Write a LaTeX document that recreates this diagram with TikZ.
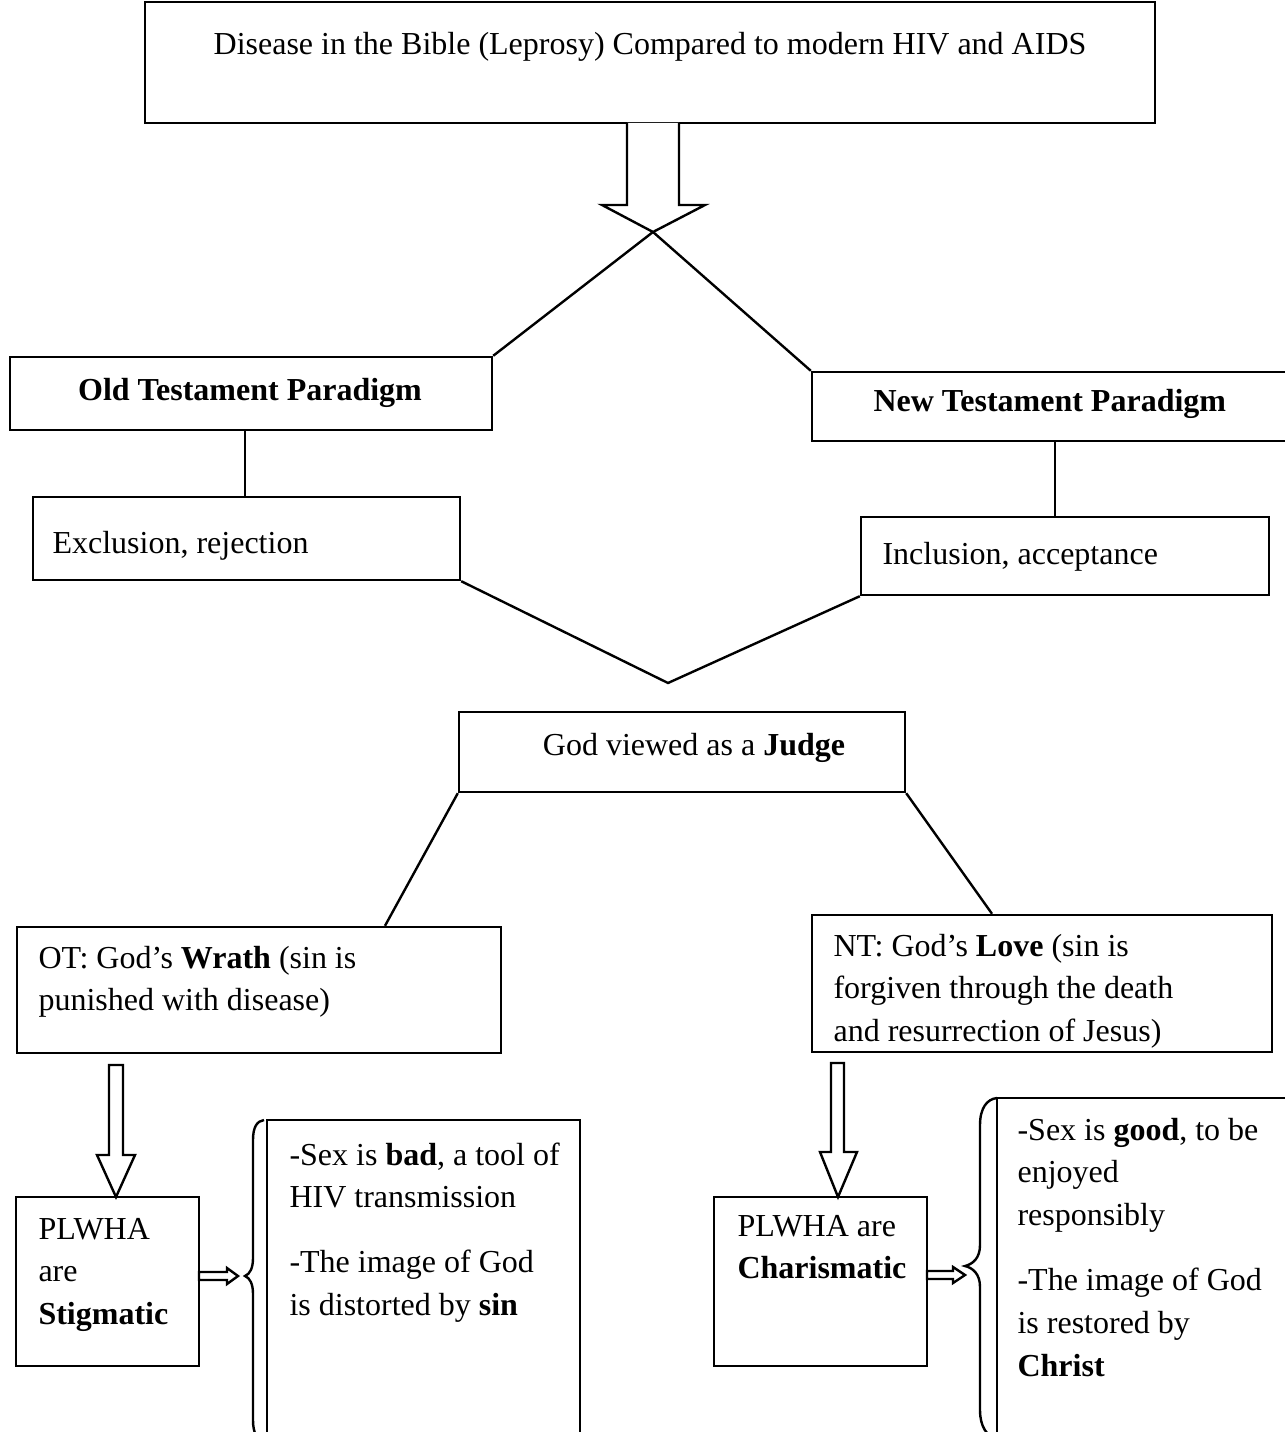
\documentclass[tikz,border=0pt]{standalone}
\usepackage{fontspec}
\setmainfont{Liberation Serif}
\usetikzlibrary{fit}
\newcommand{\linestack}[1]{\begin{tabular}[t]{@{}l@{}}#1\end{tabular}}
\begin{document}
\begin{tikzpicture}[x=0.375pt,y=-0.375pt,
  box/.style={draw, line width=0.9pt, inner sep=0pt, rectangle},
  txt/.style={anchor=base west, inner sep=0pt, font=\fontsize{12}{16.1}\selectfont},
  ctxt/.style={txt, anchor=base},
  link/.style={line width=0.9pt},
  hollow/.style={draw, line width=0.9pt, fill=white, line join=miter},
  brace/.style={draw, line width=0.9pt}]
\useasboundingbox (0,0) rectangle (1285,1432);
\clip (0,0) rectangle (1285,1432);

% title box and the split arrow below it
\node[box, fit={(145,2) (1155,123)}] (title) {};
\node[ctxt] (titletext) at (650,55) {Disease in the Bible (Leprosy) Compared to modern HIV and AIDS};
\draw[hollow] (627,123) -- (627,205) -- (602,205) -- (653,232) -- (705,205) -- (679,205) -- (679,123);
\coordinate (split) at (653,232);

% the two paradigms
\node[box, fit={(10,357) (492,430)}] (otp) {};
\node[ctxt] (otptext) at (250,401) {\textbf{Old Testament Paradigm}};
\node[box, fit={(812,372) (1300,441)}] (ntp) {};
\node[txt] (ntptext) at (873,412) {\textbf{New Testament Paradigm}};
\draw[link] (split) -- (otp.north east);
\draw[link] (split) -- (ntp.north west);

\node[box, fit={(33,497) (460,580)}] (excl) {};
\node[txt] (excltext) at (52,553) {Exclusion, rejection};
\node[box, fit={(861,517) (1269,595)}] (incl) {};
\node[txt] (incltext) at (882,564) {Inclusion, acceptance};
\coordinate (otx) at (245,0);
\coordinate (ntx) at (1055,0);
\draw[link] (otp.south -| otx) -- (excl.north -| otx);
\draw[link] (ntp.south -| ntx) -- (incl.north -| ntx);

% God as judge
\coordinate (meet) at (668,683);
\draw[link] (excl.south east) -- (meet) -- (incl.south west);
\node[box, fit={(459,712) (905,792)}] (judge) {};
\node[ctxt] (judgetext) at (694,755) {God viewed as a \textbf{Judge}};

\node[box, fit={(17,927) (501,1053)}] (wrath) {};
\node[txt] (wrathtext) at (38,968) {\linestack{OT: God’s \textbf{Wrath} (sin is\\punished with disease)}};
\node[box, fit={(812,915) (1272,1052)}] (love) {};
\node[txt] (lovetext) at (833,956) {\linestack{NT: God’s \textbf{Love} (sin is\\forgiven through the death\\and resurrection of Jesus)}};
\coordinate (wx) at (385,0);
\coordinate (lx) at (992,0);
\draw[link] (judge.south west) -- (wrath.north -| wx);
\draw[link] (judge.south east) -- (love.north -| lx);

% left column: stigma
\draw[hollow] (109,1065) -- (123,1065) -- (123,1155) -- (135,1155) -- (116,1197) -- (97,1155) -- (109,1155) -- cycle;
\node[box, fit={(16,1197) (199,1366)}] (stig) {};
\node[txt] (stigtext) at (38,1239) {\linestack{PLWHA\\are\\\textbf{Stigmatic}}};
\draw[hollow] (199,1272) -- (227,1272) -- (227,1268) -- (238,1276) -- (227,1284) -- (227,1280) -- (199,1280) -- cycle;
\draw[brace] (264,1120) .. controls (257,1121) and (253,1127) .. (253,1140) -- (253,1258)
  .. controls (253,1268) and (250,1274) .. (245,1276)
  .. controls (250,1278) and (253,1284) .. (253,1294) -- (253,1420)
  .. controls (253,1433) and (257,1440) .. (264,1442);
\node[box, fit={(267,1120) (580,1470)}] (bad) {};
\node[txt] (badtext) at (289,1165) {\linestack{-Sex is \textbf{bad}, a tool of\\HIV transmission\\[8pt]-The image of God\\is distorted by \textbf{sin}}};

% right column: charisma
\draw[hollow] (831,1063) -- (844,1063) -- (844,1152) -- (857,1152) -- (838,1197) -- (820,1152) -- (831,1152) -- cycle;
\node[box, fit={(714,1197) (927,1366)}] (char) {};
\node[txt] (chartext) at (737,1236) {\linestack{PLWHA are\\\textbf{Charismatic}}};
\draw[hollow] (927,1271) -- (953,1271) -- (953,1267) -- (965,1275) -- (953,1283) -- (953,1279) -- (927,1279) -- cycle;
\draw[brace] (997,1098) .. controls (987,1099) and (980,1108) .. (980,1125) -- (980,1245)
  .. controls (980,1258) and (973,1264) .. (965,1266)
  .. controls (973,1268) and (980,1274) .. (980,1287) -- (980,1410)
  .. controls (980,1427) and (987,1436) .. (997,1440);
\node[box, fit={(997,1098) (1300,1470)}] (good) {};
\node[txt] (goodtext) at (1017,1140) {\linestack{-Sex is \textbf{good}, to be\\enjoyed\\responsibly\\[8pt]-The image of God\\is restored by\\\textbf{Christ}}};
\end{tikzpicture}
\end{document}
